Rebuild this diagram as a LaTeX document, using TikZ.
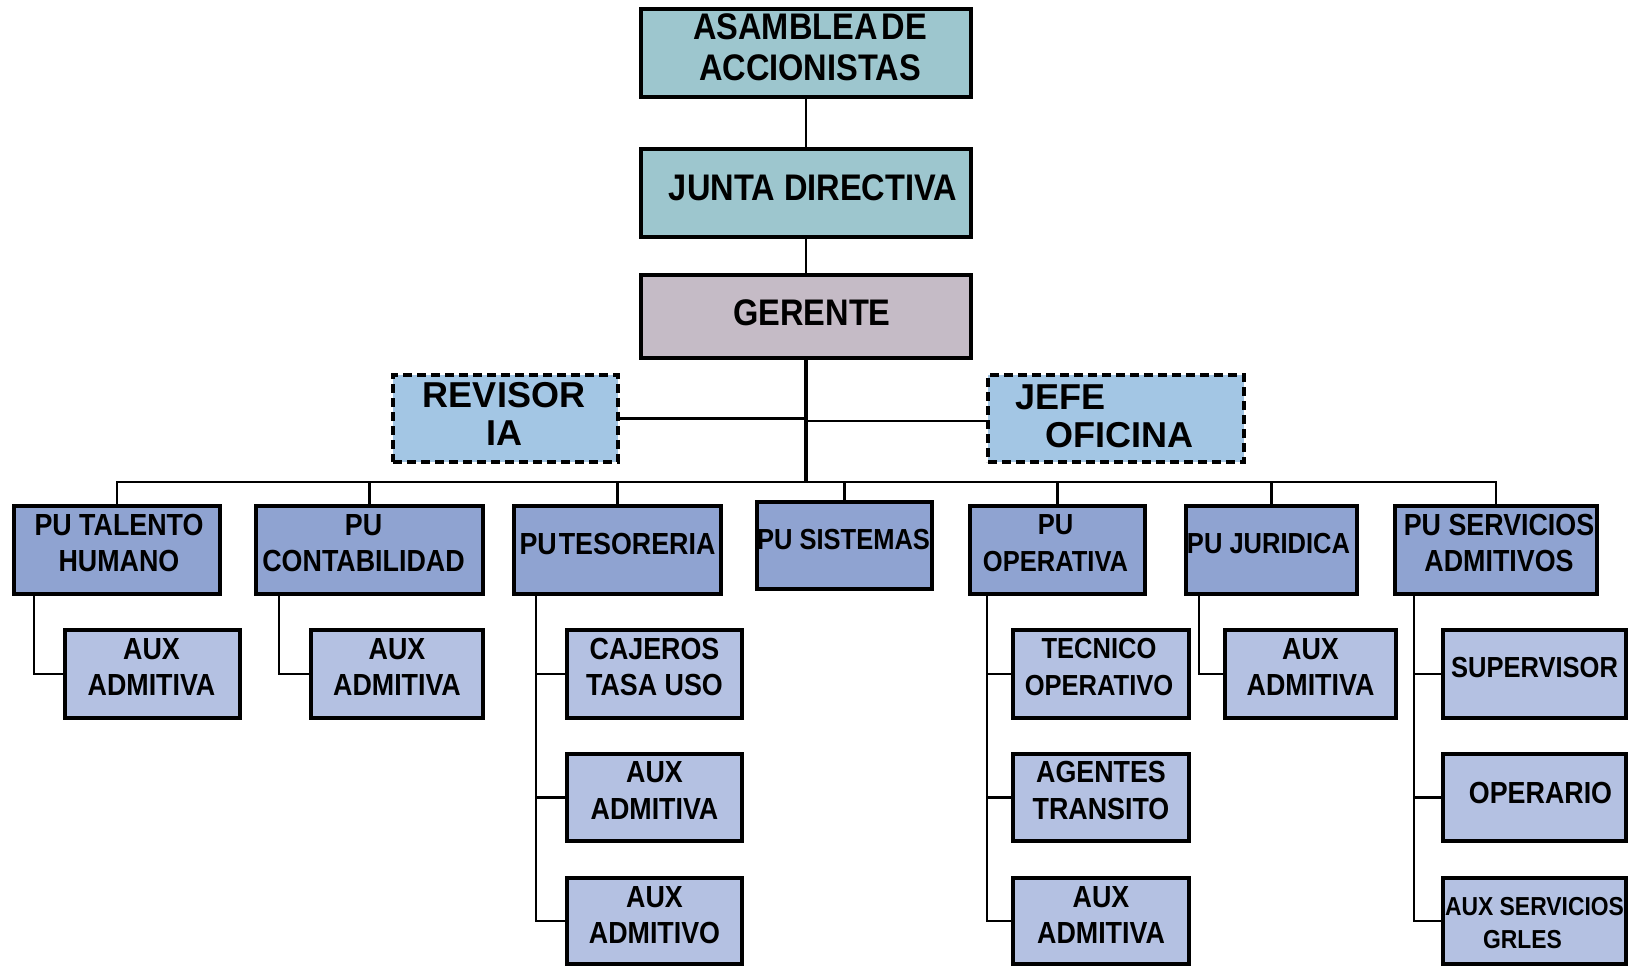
\documentclass[tikz,border=0pt]{standalone}
\usepackage{fontspec}
\setmainfont{Liberation Sans}[FakeStretch=0.88]
\newfontfamily\widefont{Liberation Sans}
\usetikzlibrary{calc,backgrounds}
\definecolor{tealbox}{HTML}{9DC6CE}
\definecolor{mauvebox}{HTML}{C5BBC6}
\definecolor{skybox}{HTML}{A3C6E4}
\definecolor{pubox}{HTML}{8FA3D1}
\definecolor{subbox}{HTML}{B4C1E2}
\tikzset{
  box/.style={draw=black, line width=3.8pt, inner sep=0pt, outer sep=0pt},
  topbox/.style={box, fill=tealbox},
  gerbox/.style={box, fill=mauvebox},
  staffbox/.style={box, fill=skybox, dash pattern=on 9pt off 5pt},
  unitbox/.style={box, fill=pubox},
  subunit/.style={box, fill=subbox},
  txt/.style={inner sep=0pt, align=center, font=\bfseries\fontsize{30.5}{36.5}\selectfont},
  smalltxt/.style={txt, font=\bfseries\fontsize{29}{36.5}\selectfont},
  bigtxt/.style={inner sep=0pt, align=center, font=\bfseries\fontsize{37}{41}\selectfont},
  stafftxt/.style={inner sep=0pt, font=\widefont\bfseries\fontsize{36}{38}\selectfont},
  conn/.style={line width=2.5pt},
  trunk/.style={line width=4pt},
}
\begin{document}
\begin{tikzpicture}[x=1pt,y=1pt]
\useasboundingbox (0,0) rectangle (1637,-966);
% top chain
\node[topbox, minimum width=330pt, minimum height=88pt] (asam) at (806,-53) {};
\node[topbox, minimum width=330pt, minimum height=88pt] (junta) at (806,-193) {};
\node[gerbox, minimum width=330pt, minimum height=83pt] (ger) at (806,-316.5) {};
\node[staffbox, minimum width=225pt, minimum height=87pt] (rev) at (505.5,-418.5) {};
\node[staffbox, minimum width=256pt, minimum height=87pt] (jefe) at (1116,-418.5) {};
\coordinate (bus) at (806,-482);
% units
\node[unitbox, minimum width=206pt, minimum height=88pt] (tal) at (117,-550) {};
\node[unitbox, minimum width=227pt, minimum height=88pt] (con) at (369.5,-550) {};
\node[unitbox, minimum width=207pt, minimum height=88pt] (tes) at (617.5,-550) {};
\node[unitbox, minimum width=175pt, minimum height=87pt] (sis) at (844.5,-545.5) {};
\node[unitbox, minimum width=175pt, minimum height=88pt] (ope) at (1057.5,-550) {};
\node[unitbox, minimum width=171pt, minimum height=88pt] (jur) at (1271.5,-550) {};
\node[unitbox, minimum width=202pt, minimum height=88pt] (ser) at (1496,-550) {};
% sub units
\node[subunit, minimum width=175pt, minimum height=88pt] (ta1) at (152.5,-674) {};
\node[subunit, minimum width=172pt, minimum height=88pt] (ca1) at (397,-674) {};
\node[subunit, minimum width=175pt, minimum height=88pt] (te1) at (654.5,-674) {};
\node[subunit, minimum width=175pt, minimum height=87pt] (te2) at (654.5,-797.5) {};
\node[subunit, minimum width=175pt, minimum height=86pt] (te3) at (654.5,-921) {};
\node[subunit, minimum width=176pt, minimum height=88pt] (op1) at (1101,-674) {};
\node[subunit, minimum width=176pt, minimum height=87pt] (op2) at (1101,-797.5) {};
\node[subunit, minimum width=176pt, minimum height=86pt] (op3) at (1101,-921) {};
\node[subunit, minimum width=171pt, minimum height=88pt] (ju1) at (1310.5,-674) {};
\node[subunit, minimum width=183pt, minimum height=88pt] (se1) at (1534.5,-674) {};
\node[subunit, minimum width=183pt, minimum height=87pt] (se2) at (1534.5,-797.5) {};
\node[subunit, minimum width=183pt, minimum height=86pt] (se3) at (1534.5,-921) {};
% texts
\node[bigtxt] at (810,-47) {ASAMBLEA\kern4pt DE\\ACCIONISTAS};
\node[bigtxt] at (813,-188) {JUNTA DIRECTIVA};
\node[bigtxt] at (812,-313) {GERENTE};
\node[stafftxt, align=center] at (504,-414) {REVISOR\\IA};
\node[stafftxt, align=left, anchor=west] at (1015,-416) {JEFE\\\hspace*{30pt}OFICINA};
\node[txt] at ($(tal.center)+(2,7)$) {PU TALENTO\\HUMANO};
\node[txt] at ($(con.center)+(-6,7)$) {PU\\CONTABILIDAD};
\node[txt] at ($(tes.center)+(0,6)$) {PU\kern2pt TESORERIA};
\node[smalltxt] at ($(sis.center)+(-1,5.5)$) {PU SISTEMAS};
\node[smalltxt] at ($(ope.center)+(-2,7)$) {PU\\OPERATIVA};
\node[smalltxt] at ($(jur.center)+(-3,6)$) {PU JURIDICA};
\node[txt] at ($(ser.center)+(3,7)$) {PU SERVICIOS\\ADMITIVOS};
\node[txt] at ($(ta1.center)+(-1,7)$) {AUX\\ADMITIVA};
\node[txt] at ($(ca1.center)+(0,7)$) {AUX\\ADMITIVA};
\node[txt] at ($(te1.center)+(0,7)$) {CAJEROS\\TASA USO};
\node[txt] at ($(te2.center)+(0,7)$) {AUX\\ADMITIVA};
\node[txt] at ($(te3.center)+(0,6)$) {AUX\\ADMITIVO};
\node[smalltxt] at ($(op1.center)+(-2,7)$) {TECNICO\\OPERATIVO};
\node[txt] at ($(op2.center)+(0,7)$) {AGENTES\\TRANSITO};
\node[txt] at ($(op3.center)+(0,6)$) {AUX\\ADMITIVA};
\node[txt] at ($(ju1.center)+(0,7)$) {AUX\\ADMITIVA};
\node[smalltxt] at ($(se1.center)+(0,6)$) {SUPERVISOR};
\node[txt] at ($(se2.center)+(6,5)$) {OPERARIO};
\node[txt, font=\bfseries\fontsize{26}{33.4}\selectfont] at ($(se3.center)+(0,-2)$) {AUX SERVICIOS\\GRLES\kern24pt};
% connectors
\begin{scope}[on background layer]
\fill[white] (0,0) rectangle (1637,-966);
\draw[conn] (asam.south) -- (junta.north);
\draw[conn] (junta.south) -- (ger.north);
\draw[trunk] (ger.south) -- (bus);
\draw[conn] (rev.east) -- (rev.east -| ger.south);
\draw[conn] ([yshift=-2.5pt]jefe.west) -- ([yshift=-2.5pt]jefe.west -| ger.south);
\foreach \u in {tal,con,tes,sis,ope,jur,ser}
  \draw[conn] (bus) -| (\u.north);
\draw[conn] ($(tal.south west)+(20,0)$) |- (ta1.west);
\draw[conn] ($(con.south west)+(23,0)$) |- (ca1.west);
\foreach \c in {te1,te2,te3}
  \draw[conn] ($(tes.south west)+(22,0)$) |- (\c.west);
\foreach \c in {op1,op2,op3}
  \draw[conn] ($(ope.south west)+(17,0)$) |- (\c.west);
\draw[conn] ($(jur.south west)+(13,0)$) |- (ju1.west);
\foreach \c in {se1,se2,se3}
  \draw[conn] ($(ser.south west)+(19,0)$) |- (\c.west);
\end{scope}
\end{tikzpicture}
\end{document}
